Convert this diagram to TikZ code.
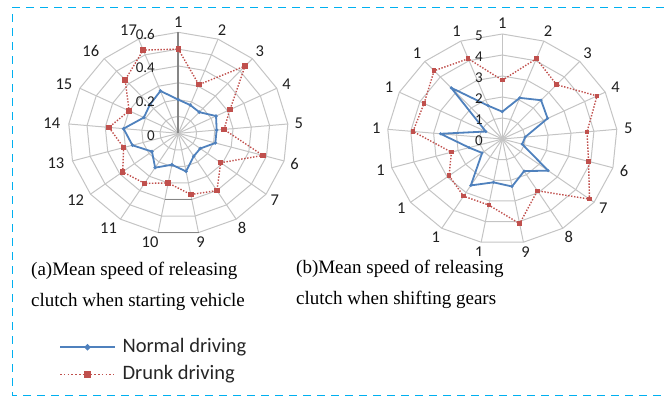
\documentclass[tikz,border=0pt]{standalone}
\usepackage{fontspec}
\setmainfont{Liberation Serif}
\newfontfamily\chartfont{Carlito}
\usepackage{xcolor}
\usepackage{tikz}
\usetikzlibrary{shapes.geometric}

\definecolor{framecyan}{RGB}{0,176,240}
\definecolor{normalblue}{RGB}{79,129,189}
\definecolor{drunkred}{RGB}{192,80,77}
\definecolor{gridgray}{RGB}{196,196,196}
\definecolor{axisgray}{RGB}{134,134,134}

\tikzset{
  gridline/.style={gridgray, line width=1pt},
  axisline/.style={axisgray, line width=1.8pt},
  normalline/.style={normalblue, line width=1.8pt, line join=round},
  drunkline/.style={drunkred, line width=1.4pt, dash pattern=on 1.4pt off 1.6pt},
  normalmark/.style={diamond, fill=normalblue, inner sep=0pt, minimum size=5pt},
  drunkmark/.style={rectangle, fill=drunkred, inner sep=0pt, minimum size=5pt},
  catlabel/.style={font=\chartfont\fontsize{16.5}{18}\selectfont, text=black!88},
  vallabel/.style={font=\chartfont\fontsize{15}{17}\selectfont, text=black!88, anchor=east},
  captext/.style={font=\fontsize{19}{22}\selectfont, anchor=base west, inner xsep=1pt, inner ysep=4pt, fill=white},
  legendtext/.style={font=\chartfont\fontsize{20.5}{24}\selectfont, text=black!85, anchor=west},
  dashframe/.style={framecyan, line width=1.3pt, dash pattern=on 8pt off 6pt},
}

\begin{document}
\begin{tikzpicture}[x=1pt, y=1pt]
\useasboundingbox (0,0) rectangle (664,397);

% Frame, open on the right
\draw[dashframe] (664,389.5) -- (12.7,389.5) -- (12.7,1.5) -- (664,1.5);

% (a) starting vehicle, full scale 0.6
\begin{scope}[shift={(178.3,263.7)}, x={(110pt,0pt)}, y={(0pt,101pt)}]
  \foreach \r in {1,...,6}
    \draw[gridline] (90:{\r/6}) \foreach \k in {1,...,16}{-- ({90-\k*360/17}:{\r/6})} -- cycle;
  \foreach \k in {0,...,16}
    \draw[gridline] (0,0) -- ({90-\k*360/17}:1);
  \draw[axisline] (0,0) -- (90:1);
  \draw[axisline, line width=1.4pt] ({90-8*360/17}:{4/6}) -- ({90-9*360/17}:{4/6});
  \draw[axisline, line width=1.4pt] ({90-8*360/17}:1) -- ({90-9*360/17}:1);

  % Normal driving
  \foreach \v [count=\k from 0] in {0.20,0.18,0.17,0.23,0.21,0.21,0.15,0.16,0.23,0.19,0.24,0.18,0.26,0.30,0.21,0.23,0.27}
    \coordinate (nA\k) at ({90-\k*360/17}:{\v/0.6});
  \draw[normalline] (nA0) \foreach \k in {1,...,16}{-- (nA\k)} -- cycle;
  \foreach \k in {0,...,16} \node[normalmark, minimum size=4pt] (mnA\k) at (nA\k) {};

  % Drunk driving
  \foreach \v [count=\k from 0] in {0.50,0.31,0.54,0.315,0.25,0.48,0.29,0.40,0.37,0.30,0.35,0.38,0.31,0.38,0.30,0.43,0.53}
    \coordinate (dA\k) at ({90-\k*360/17}:{\v/0.6});
  \draw[drunkline] (dA0) \foreach \k in {1,...,16}{-- (dA\k)} -- cycle;
  \foreach \k in {0,...,16} \node[drunkmark, minimum size=5.5pt] (mdA\k) at (dA\k) {};

  % Axis values and categories
  \foreach \v/\t in {0/0,2/0.2,4/0.4,6/0.6}
    \node[vallabel, xshift=-20pt, yshift=-2pt] (valA\v) at (0,{\v/6}) {\t};
  \foreach \k in {1,...,9}
    \node[catlabel] (catA\k) at ({90-(\k-1)*360/17}:1.1) {\k};
  \foreach \k in {10,...,17}
    \node[catlabel, xshift=-6pt] (catA\k) at ({90-(\k-1)*360/17}:1.1) {\k};
\end{scope}

% (b) shifting gears, full scale 5
\begin{scope}[shift={(502.3,258)}, x={(115pt,0pt)}, y={(0pt,105pt)}]
  \foreach \r in {1,...,5}
    \draw[gridline] (90:{\r/5}) \foreach \k in {1,...,16}{-- ({90-\k*360/17}:{\r/5})} -- cycle;
  \foreach \k in {0,...,16}
    \draw[gridline] (0,0) -- ({90-\k*360/17}:1);

  % Normal driving
  \foreach \v [count=\k from 0] in {1.3,2.1,2.5,2.2,1.0,0.9,2.5,1.8,2.3,2.1,2.6,1.1,1.5,2.7,0.8,3.3,1.7}
    \coordinate (nB\k) at ({90-\k*360/17}:{\v/5});
  \draw[normalline] (nB0) \foreach \k in {1,...,16}{-- (nB\k)} -- cycle;
  \foreach \k in {0,...,16} \node[normalmark, minimum size=3.5pt] (mnB\k) at (nB\k) {};

  % Drunk driving
  \foreach \v [count=\k from 0] in {2.8,4.1,3.5,4.6,3.7,3.9,4.75,2.9,4.1,3.2,3.2,2.9,2.3,3.9,3.8,4.4,4.1}
    \coordinate (dB\k) at ({90-\k*360/17}:{\v/5});
  \draw[drunkline] (dB0) \foreach \k in {1,...,16}{-- (dB\k)} -- cycle;
  \foreach \k in {0,...,16} \node[drunkmark, minimum size=4.5pt] (mdB\k) at (dB\k) {};

  % Axis values and categories
  \foreach \v in {0,...,5}
    \node[vallabel, xshift=-16pt, yshift=-1.5pt] (valB\v) at (0,{\v/5}) {\v};
  \foreach \k/\t in {1/1,2/2,3/3,4/4,5/5,6/6,7/7,8/8,9/9,10/1,11/1,12/1,13/1,14/1,15/1,16/1,17/1}
    \node[catlabel] (catB\k) at ({90-(\k-1)*360/17}:1.1) {\t};
\end{scope}

% Captions
\node[captext] (capAone) at (30,122) {(a)Mean speed of releasing};
\node[captext] (capAtwo) at (30,91) {clutch when starting vehicle};
\node[captext] (capBone) at (295,124) {(b)Mean speed of releasing};
\node[captext] (capBtwo) at (295,93) {clutch when shifting gears};

% Legend
\coordinate (legNa) at (60,49.7);
\coordinate (legNb) at (115,49.7);
\draw[normalline] (legNa) -- (legNb);
\node[normalmark, minimum size=7pt] (legNm) at (87.5,49.7) {};
\node[legendtext] (legN) at (119,49.7) {Normal driving};

\coordinate (legDa) at (60,22.7);
\coordinate (legDb) at (114,22.7);
\draw[drunkline, dash pattern=on 1.6pt off 2.2pt] (legDa) -- (legDb);
\node[drunkmark, minimum size=7pt] (legDm) at (87.5,22.7) {};
\node[legendtext] (legD) at (119,22.7) {Drunk driving};

\end{tikzpicture}
\end{document}
